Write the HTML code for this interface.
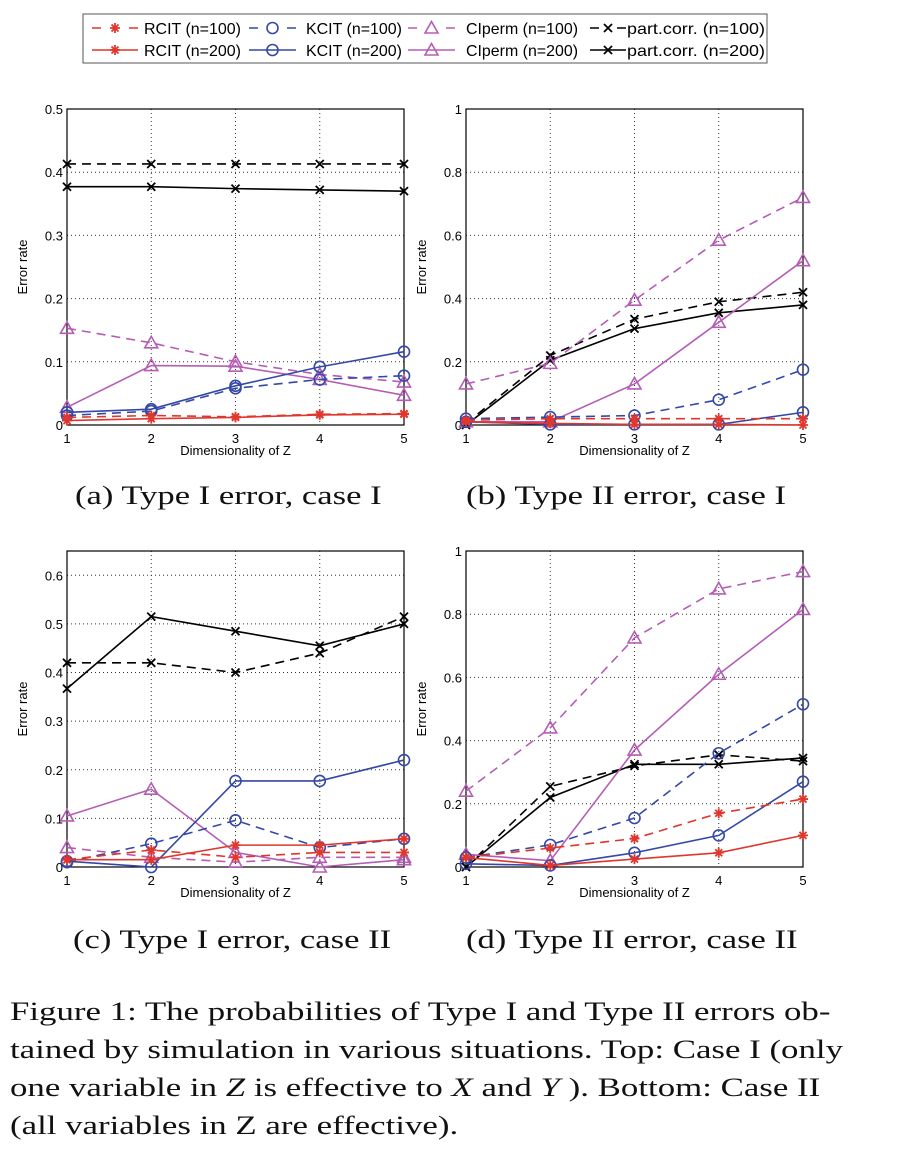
<!DOCTYPE html>
<html><head><meta charset="utf-8"><style>
body{margin:0;background:#fff;width:904px;height:1162px;overflow:hidden;position:relative;font-family:"Liberation Sans",sans-serif}
.cap{position:absolute;font-family:"Liberation Serif",serif;font-size:26px;transform:scaleX(1.33);transform-origin:0 0;color:#111;white-space:nowrap}
#fig{position:absolute;left:10px;top:993px;font-family:"Liberation Serif",serif;font-size:26px;line-height:38px;transform:scaleX(1.34);transform-origin:0 0;color:#111;white-space:nowrap}
</style></head><body>
<svg id="s" width="904" height="1162" style="position:absolute;left:0;top:0"></svg>
<div class="cap" style="left:75px;top:481px">(a) Type I error, case I</div>
<div class="cap" style="left:466px;top:481px">(b) Type II error, case I</div>
<div class="cap" style="left:73px;top:925px">(c) Type I error, case II</div>
<div class="cap" style="left:466px;top:925px">(d) Type II error, case II</div>
<div id="fig">Figure 1: The probabilities of Type I and Type II errors ob-<br>tained by simulation in various situations. Top: Case I (only<br>one variable in <i>Z</i> is effective to <i>X</i> and <i>Y</i> ). Bottom: Case II<br>(all variables in Z are effective).</div>
<script>
const categories=[1,2,3,4,5];
const seriesNames=["RCIT (n=100)","KCIT (n=100)","CIperm (n=100)","part.corr. (n=100)","RCIT (n=200)","KCIT (n=200)","CIperm (n=200)","part.corr. (n=200)"];
const aRCIT100=[.012,.015,.013,.017,.018],aRCIT200=[.007,.01,.012,.016,.017],aKCIT100=[.015,.022,.058,.072,.078],aKCIT200=[.02,.025,.062,.092,.116],aCIP100=[.153,.13,.1,.08,.068],aCIP200=[.028,.094,.093,.072,.047],aPC100=[.413,.413,.413,.413,.413],aPC200=[.377,.377,.374,.372,.37];
const bRCIT100=[.015,.02,.02,.02,.02],bRCIT200=[.01,.005,.002,.002,0],bKCIT100=[.02,.025,.03,.08,.175],bKCIT200=[.01,.002,.002,.002,.04],bCIP100=[.13,.195,.395,.585,.72],bCIP200=[.01,.01,.13,.325,.52],bPC100=[.005,.22,.335,.39,.42],bPC200=[0,.205,.305,.355,.38];
const cRCIT100=[.015,.035,.02,.03,.03],cRCIT200=[.015,.015,.045,.045,.058],cKCIT100=[.01,.048,.096,.04,.058],cKCIT200=[.012,0,.177,.177,.22],cCIP100=[.04,.02,.01,.02,.02],cCIP200=[.105,.16,.03,0,.015],cPC100=[.42,.42,.4,.44,.515],cPC200=[.367,.515,.485,.455,.5];
const dRCIT100=[.03,.06,.09,.17,.215],dRCIT200=[.03,.005,.025,.045,.1],dKCIT100=[.03,.07,.155,.36,.515],dKCIT200=[.01,.005,.045,.1,.27],dCIP100=[.24,.44,.725,.88,.935],dCIP200=[.04,.02,.37,.61,.815],dPC100=[0,.255,.32,.355,.335],dPC200=[0,.22,.325,.325,.345];
const ticksA=["0","0.1","0.2","0.3","0.4","0.5"],ticksB=["0","0.2","0.4","0.6","0.8","1"],ticksC=["0","0.1","0.2","0.3","0.4","0.5","0.6"];
const NS="http://www.w3.org/2000/svg",S=document.getElementById('s');
function el(t,a,p){const e=document.createElementNS(NS,t);for(const k in a)e.setAttribute(k,a[k]);(p||S).appendChild(e);return e;}
const styles=[{c:"#e0362c",m:"star",d:true},{c:"#3448a8",m:"circ",d:true},{c:"#b55db5",m:"tri",d:true},{c:"#000",m:"x",d:true},{c:"#e0362c",m:"star",d:false},{c:"#3448a8",m:"circ",d:false},{c:"#b55db5",m:"tri",d:false},{c:"#000",m:"x",d:false}];
function marker(g,m,x,y,c){
 if(m==="circ")el('circle',{cx:x,cy:y,r:5.5,fill:'none',stroke:c,'stroke-width':1.6},g);
 else if(m==="tri")el('path',{d:`M${x} ${y-6.5}L${x+6.5} ${y+5}L${x-6.5} ${y+5}Z`,fill:'none',stroke:c,'stroke-width':1.6},g);
 else if(m==="x")el('path',{d:`M${x-4} ${y-4}L${x+4} ${y+4}M${x-4} ${y+4}L${x+4} ${y-4}`,stroke:c,'stroke-width':1.8},g);
 else el('path',{d:`M${x} ${y-5}V${y+5}M${x-5} ${y}H${x+5}M${x-3.5} ${y-3.5}L${x+3.5} ${y+3.5}M${x-3.5} ${y+3.5}L${x+3.5} ${y-3.5}`,stroke:c,'stroke-width':1.8},g);
}
function panel(id,L,R,T,B,ymax,ticks,step,series){
 const g=el('g',{});
 const X=v=>L+(v-1)/4*(R-L),Y=v=>B-v/ymax*(B-T);
 categories.forEach(c=>{if(c>1&&c<5)el('line',{x1:X(c),x2:X(c),y1:T,y2:B,stroke:'#333','stroke-dasharray':'1 3','stroke-width':1},g);
  const t=el('text',{x:X(c),y:B+18,'text-anchor':'middle','font-size':13},g);t.textContent=c;});
 ticks.forEach((s,i)=>{const y=Y(i*step);if(i>0&&y>T+1)el('line',{x1:L,x2:R,y1:y,y2:y,stroke:'#333','stroke-dasharray':'1 3','stroke-width':1},g);
  const t=el('text',{x:L-4,y:y+5,'text-anchor':'end','font-size':13},g);t.textContent=s;});
 el('rect',{x:L,y:T,width:R-L,height:B-T,fill:'none',stroke:'#000','stroke-width':1.2},g);
 const xt=el('text',{x:(L+R)/2,y:B+30,'text-anchor':'middle','font-size':13},g);xt.textContent="Dimensionality of Z";
 const yt=el('text',{x:0,y:0,'text-anchor':'middle','font-size':13,transform:`translate(${L-40},${(T+B)/2}) rotate(-90)`},g);yt.textContent="Error rate";
 const order=[3,7,2,6,1,5,0,4];
 order.forEach(i=>{const st=styles[i],vals=series[i];
  const sg=el('g',{},g);
  el('polyline',{points:vals.map((v,k)=>X(categories[k])+','+Y(v)).join(' '),fill:'none',stroke:st.c,'stroke-width':1.6,'stroke-dasharray':st.d?'9 6':'none'},sg);
  vals.forEach((v,k)=>marker(sg,st.m,X(categories[k]),Y(v),st.c));});
}
panel('a',67,404,109,425,0.5,ticksA,0.1,[aRCIT100,aKCIT100,aCIP100,aPC100,aRCIT200,aKCIT200,aCIP200,aPC200]);
panel('b',466,803,109,425,1,ticksB,0.2,[bRCIT100,bKCIT100,bCIP100,bPC100,bRCIT200,bKCIT200,bCIP200,bPC200]);
panel('c',67,404,551,867,0.65,ticksC,0.1,[cRCIT100,cKCIT100,cCIP100,cPC100,cRCIT200,cKCIT200,cCIP200,cPC200]);
panel('d',466,803,551,867,1,ticksB,0.2,[dRCIT100,dKCIT100,dCIP100,dPC100,dRCIT200,dKCIT200,dCIP200,dPC200]);
const lg=el('g',{});
el('rect',{x:83,y:14,width:684,height:49,fill:'#fff',stroke:'#555','stroke-width':1},lg);
const lineX=[92,249,408,590],lineW=[46,47,47,36],textX=[144,306,466,627],textW=[97,96,112,138];
styles.forEach((st,i)=>{const col=i%4,row=Math.floor(i/4),x=lineX[col],y=row?50:28,w=lineW[col];
 const e=el('g',{},lg);
 el('line',{x1:x,x2:x+w,y1:y,y2:y,stroke:st.c,'stroke-width':1.6,'stroke-dasharray':st.d?`9 ${w-18}`:'none'},e);
 marker(e,st.m,x+w/2,y,st.c);
 const t=el('text',{x:textX[col],y:y+6,'font-size':16,textLength:textW[col],lengthAdjust:'spacingAndGlyphs'},e);t.textContent=seriesNames[i];});
</script>
</body></html>
